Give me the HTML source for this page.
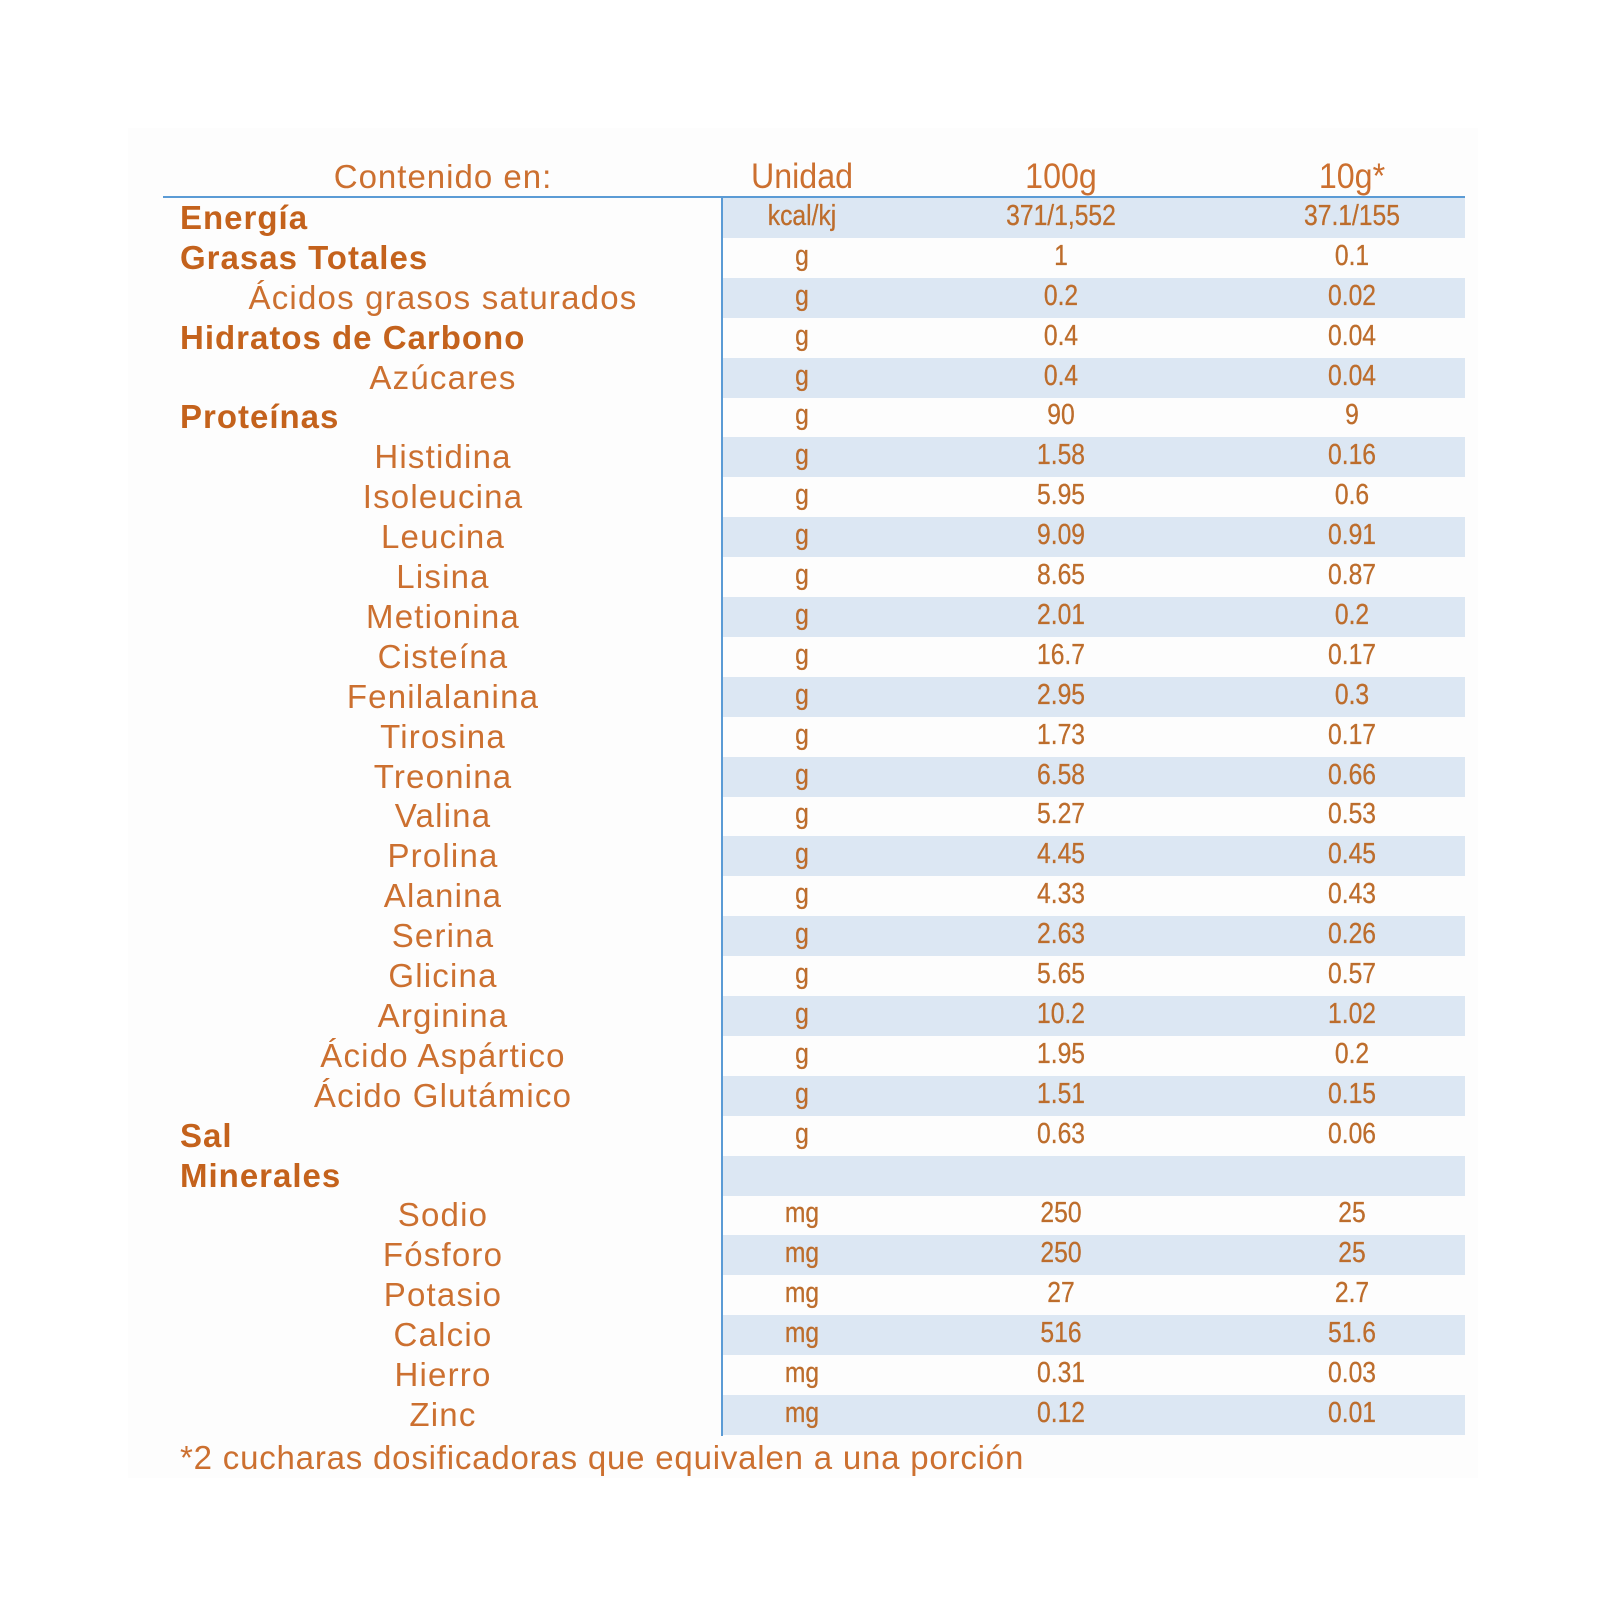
<!DOCTYPE html>
<html><head><meta charset="utf-8"><style>
body{margin:0;background:#fff;}
#c{position:relative;width:1600px;height:1600px;overflow:hidden;background:#fff;font-family:"Liberation Sans",Arial,sans-serif;color:#cc7030;}
.bg{position:absolute;left:128px;top:128px;width:1350px;height:1350px;background:#fdfdfd;}
.r{position:absolute;left:722px;width:743px;height:40px;}
.s{background:#dce7f3;}
.t{position:absolute;white-space:nowrap;line-height:40px;}
.n{font-size:29px;transform:translate(-50%,0) scaleX(0.85);color:#bd6d2c;-webkit-text-stroke:0.3px #bd6d2c;}
.b{font-weight:bold;font-size:33px;left:180px;color:#c4621c;letter-spacing:1px;}
.sub{font-size:33px;transform:translateX(-50%);left:443px;letter-spacing:1.2px;}
.h{position:absolute;top:157px;line-height:40px;font-size:35px;white-space:nowrap;transform:translateX(-50%) scaleX(0.92);}
</style></head><body><div id="c">
<div class="bg"></div>
<div class="h" style="left:443px;transform:translateX(-50%);font-size:33px;letter-spacing:1px">Contenido en:</div>
<div class="h" style="left:802px">Unidad</div>
<div class="h" style="left:1061px">100g</div>
<div class="h" style="left:1352px">10g*</div>

<div class="r s" style="top:198px"></div>
<div class="r s" style="top:278px"></div>
<div class="r s" style="top:358px"></div>
<div class="r s" style="top:437px"></div>
<div class="r s" style="top:517px"></div>
<div class="r s" style="top:597px"></div>
<div class="r s" style="top:677px"></div>
<div class="r s" style="top:757px"></div>
<div class="r s" style="top:836px"></div>
<div class="r s" style="top:916px"></div>
<div class="r s" style="top:996px"></div>
<div class="r s" style="top:1076px"></div>
<div class="r s" style="top:1156px"></div>
<div class="r s" style="top:1235px"></div>
<div class="r s" style="top:1315px"></div>
<div class="r s" style="top:1395px"></div>

<div style="position:absolute;left:163px;top:196px;width:1302px;height:2px;background:#5b9bd5"></div>
<div style="position:absolute;left:721px;top:197px;width:2px;height:1239px;background:#5b9bd5"></div>

<div class="t b" style="top:198px">Energía</div>
<div class="t b" style="top:238px">Grasas Totales</div>
<div class="t sub" style="top:278px">Ácidos grasos saturados</div>
<div class="t b" style="top:318px">Hidratos de Carbono</div>
<div class="t sub" style="top:358px">Azúcares</div>
<div class="t b" style="top:397px">Proteínas</div>
<div class="t sub" style="top:437px">Histidina</div>
<div class="t sub" style="top:477px">Isoleucina</div>
<div class="t sub" style="top:517px">Leucina</div>
<div class="t sub" style="top:557px">Lisina</div>
<div class="t sub" style="top:597px">Metionina</div>
<div class="t sub" style="top:637px">Cisteína</div>
<div class="t sub" style="top:677px">Fenilalanina</div>
<div class="t sub" style="top:717px">Tirosina</div>
<div class="t sub" style="top:757px">Treonina</div>
<div class="t sub" style="top:796px">Valina</div>
<div class="t sub" style="top:836px">Prolina</div>
<div class="t sub" style="top:876px">Alanina</div>
<div class="t sub" style="top:916px">Serina</div>
<div class="t sub" style="top:956px">Glicina</div>
<div class="t sub" style="top:996px">Arginina</div>
<div class="t sub" style="top:1036px">Ácido Aspártico</div>
<div class="t sub" style="top:1076px">Ácido Glutámico</div>
<div class="t b" style="top:1116px">Sal</div>
<div class="t b" style="top:1156px">Minerales</div>
<div class="t sub" style="top:1195px">Sodio</div>
<div class="t sub" style="top:1235px">Fósforo</div>
<div class="t sub" style="top:1275px">Potasio</div>
<div class="t sub" style="top:1315px">Calcio</div>
<div class="t sub" style="top:1355px">Hierro</div>
<div class="t sub" style="top:1395px">Zinc</div>

<div class="t n" style="top:196px;left:802px">kcal/kj</div><div class="t n" style="top:196px;left:1061px">371/1,552</div><div class="t n" style="top:196px;left:1352px">37.1/155</div>
<div class="t n" style="top:236px;left:802px">g</div><div class="t n" style="top:236px;left:1061px">1</div><div class="t n" style="top:236px;left:1352px">0.1</div>
<div class="t n" style="top:276px;left:802px">g</div><div class="t n" style="top:276px;left:1061px">0.2</div><div class="t n" style="top:276px;left:1352px">0.02</div>
<div class="t n" style="top:316px;left:802px">g</div><div class="t n" style="top:316px;left:1061px">0.4</div><div class="t n" style="top:316px;left:1352px">0.04</div>
<div class="t n" style="top:356px;left:802px">g</div><div class="t n" style="top:356px;left:1061px">0.4</div><div class="t n" style="top:356px;left:1352px">0.04</div>
<div class="t n" style="top:395px;left:802px">g</div><div class="t n" style="top:395px;left:1061px">90</div><div class="t n" style="top:395px;left:1352px">9</div>
<div class="t n" style="top:435px;left:802px">g</div><div class="t n" style="top:435px;left:1061px">1.58</div><div class="t n" style="top:435px;left:1352px">0.16</div>
<div class="t n" style="top:475px;left:802px">g</div><div class="t n" style="top:475px;left:1061px">5.95</div><div class="t n" style="top:475px;left:1352px">0.6</div>
<div class="t n" style="top:515px;left:802px">g</div><div class="t n" style="top:515px;left:1061px">9.09</div><div class="t n" style="top:515px;left:1352px">0.91</div>
<div class="t n" style="top:555px;left:802px">g</div><div class="t n" style="top:555px;left:1061px">8.65</div><div class="t n" style="top:555px;left:1352px">0.87</div>
<div class="t n" style="top:595px;left:802px">g</div><div class="t n" style="top:595px;left:1061px">2.01</div><div class="t n" style="top:595px;left:1352px">0.2</div>
<div class="t n" style="top:635px;left:802px">g</div><div class="t n" style="top:635px;left:1061px">16.7</div><div class="t n" style="top:635px;left:1352px">0.17</div>
<div class="t n" style="top:675px;left:802px">g</div><div class="t n" style="top:675px;left:1061px">2.95</div><div class="t n" style="top:675px;left:1352px">0.3</div>
<div class="t n" style="top:715px;left:802px">g</div><div class="t n" style="top:715px;left:1061px">1.73</div><div class="t n" style="top:715px;left:1352px">0.17</div>
<div class="t n" style="top:755px;left:802px">g</div><div class="t n" style="top:755px;left:1061px">6.58</div><div class="t n" style="top:755px;left:1352px">0.66</div>
<div class="t n" style="top:794px;left:802px">g</div><div class="t n" style="top:794px;left:1061px">5.27</div><div class="t n" style="top:794px;left:1352px">0.53</div>
<div class="t n" style="top:834px;left:802px">g</div><div class="t n" style="top:834px;left:1061px">4.45</div><div class="t n" style="top:834px;left:1352px">0.45</div>
<div class="t n" style="top:874px;left:802px">g</div><div class="t n" style="top:874px;left:1061px">4.33</div><div class="t n" style="top:874px;left:1352px">0.43</div>
<div class="t n" style="top:914px;left:802px">g</div><div class="t n" style="top:914px;left:1061px">2.63</div><div class="t n" style="top:914px;left:1352px">0.26</div>
<div class="t n" style="top:954px;left:802px">g</div><div class="t n" style="top:954px;left:1061px">5.65</div><div class="t n" style="top:954px;left:1352px">0.57</div>
<div class="t n" style="top:994px;left:802px">g</div><div class="t n" style="top:994px;left:1061px">10.2</div><div class="t n" style="top:994px;left:1352px">1.02</div>
<div class="t n" style="top:1034px;left:802px">g</div><div class="t n" style="top:1034px;left:1061px">1.95</div><div class="t n" style="top:1034px;left:1352px">0.2</div>
<div class="t n" style="top:1074px;left:802px">g</div><div class="t n" style="top:1074px;left:1061px">1.51</div><div class="t n" style="top:1074px;left:1352px">0.15</div>
<div class="t n" style="top:1114px;left:802px">g</div><div class="t n" style="top:1114px;left:1061px">0.63</div><div class="t n" style="top:1114px;left:1352px">0.06</div>
<div class="t n" style="top:1193px;left:802px">mg</div><div class="t n" style="top:1193px;left:1061px">250</div><div class="t n" style="top:1193px;left:1352px">25</div>
<div class="t n" style="top:1233px;left:802px">mg</div><div class="t n" style="top:1233px;left:1061px">250</div><div class="t n" style="top:1233px;left:1352px">25</div>
<div class="t n" style="top:1273px;left:802px">mg</div><div class="t n" style="top:1273px;left:1061px">27</div><div class="t n" style="top:1273px;left:1352px">2.7</div>
<div class="t n" style="top:1313px;left:802px">mg</div><div class="t n" style="top:1313px;left:1061px">516</div><div class="t n" style="top:1313px;left:1352px">51.6</div>
<div class="t n" style="top:1353px;left:802px">mg</div><div class="t n" style="top:1353px;left:1061px">0.31</div><div class="t n" style="top:1353px;left:1352px">0.03</div>
<div class="t n" style="top:1393px;left:802px">mg</div><div class="t n" style="top:1393px;left:1061px">0.12</div><div class="t n" style="top:1393px;left:1352px">0.01</div>

<div class="t" style="left:180px;top:1438px;font-size:33px;letter-spacing:0.8px">*2 cucharas dosificadoras que equivalen a una porción</div>
</div></body></html>
